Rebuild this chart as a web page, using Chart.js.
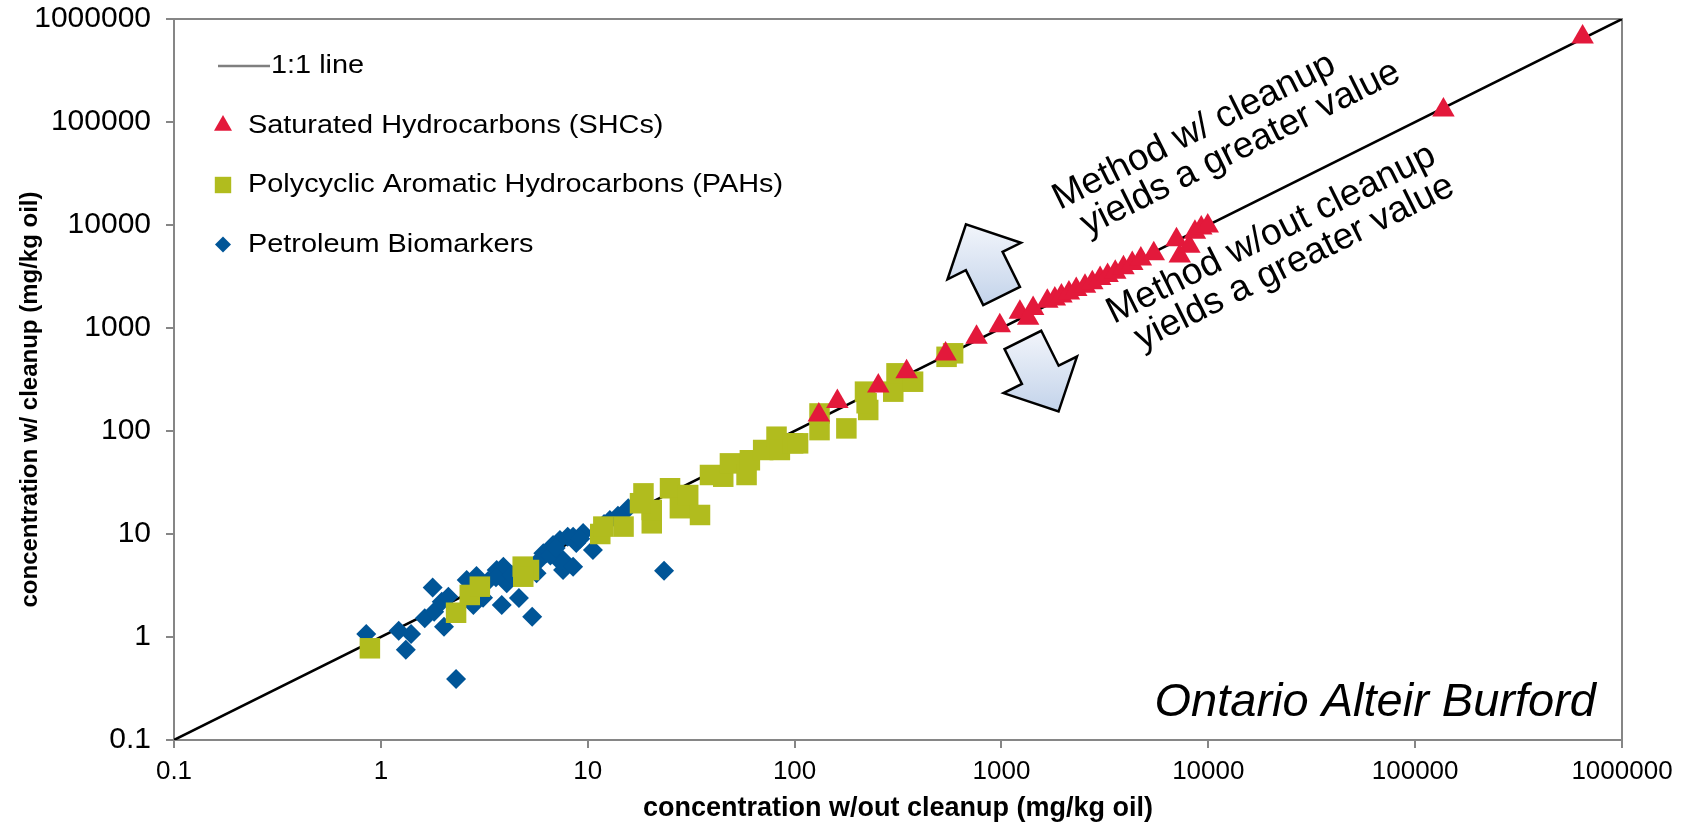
<!DOCTYPE html>
<html><head><meta charset="utf-8">
<script src="https://cdn.jsdelivr.net/npm/chart.js@4/dist/chart.umd.min.js"></script>
<style>html,body{margin:0;padding:0;background:#fff;overflow:hidden}</style>
</head><body>
<canvas id="c" width="1688" height="825"></canvas>
<script>
// ---------- data ----------
const tickValues = [0.1, 1, 10, 100, 1000, 10000, 100000, 1000000];
const tickLabels = ['0.1', '1', '10', '100', '1000', '10000', '100000', '1000000'];

const lineX = [0.1, 1000000];
const lineY = [0.1, 1000000];

const shcX = [131, 161, 254, 348, 537, 758, 982, 1228, 1346, 1423, 1667, 1812, 1950, 2120, 2300, 2535, 2750, 3000, 3260, 3550, 3890, 4290, 4720, 5450, 7020, 7280, 8100, 8620, 9250, 9940, 137000, 645000];
const shcY = [143, 193, 273, 377, 560, 813, 1052, 1420, 1243, 1550, 1815, 1910, 2040, 2190, 2370, 2550, 2750, 3020, 3240, 3470, 3850, 4230, 4680, 5260, 7200, 5000, 6220, 8500, 9330, 9800, 131000, 670000];

const pahX = [0.885, 2.31, 2.69, 3.01, 4.85, 5.2, 4.88, 11.5, 11.9, 14.9, 18.6, 20.4, 20.4, 17.9, 25, 27.9, 30.6, 34.9, 39, 45.2, 48.7, 58.6, 60.8, 70.5, 81.8, 84.9, 98.4, 104, 132, 132, 178, 219, 227, 223, 300, 311, 374, 543, 584];
const pahY = [0.777, 1.72, 2.56, 3.08, 4.82, 4.47, 3.85, 10, 11.8, 11.8, 24.8, 12.7, 17.1, 19.9, 27.8, 17.8, 23.9, 15.3, 37.4, 36, 48.5, 37.4, 52, 65.4, 88, 65.4, 75.9, 75.9, 102, 148, 106, 241, 160, 186, 241, 363, 301, 525, 568];

const bioX = [0.85, 1.22, 1.40, 1.32, 2.31, 1.78, 1.63, 1.81, 2.02, 1.97, 2.12, 2.6, 2.9, 2.8, 3.12, 3.84, 3.63, 3.91, 4.06, 4.65, 5.39, 5.16, 5.66, 6.1, 6.8, 7.34, 7.6, 8.0, 7.34, 6.3, 7.6, 8.5, 8.5, 10.6, 9.5, 12.8, 15.7, 23.4, 3.3, 3.6, 4.3, 4.8, 5.8, 6.6, 7.0, 8.8, 9.2, 11.5, 12.0, 14.0];
const bioY = [1.07, 1.15, 1.07, 0.75, 0.39, 3.03, 1.52, 1.76, 1.26, 2.2, 2.46, 3.57, 3.9, 2.04, 2.4, 2.04, 4.47, 4.8, 3.32, 2.39, 1.57, 4.15, 4.15, 6.5, 7.8, 8.75, 4.47, 9.4, 5.4, 6.5, 5.6, 9.4, 4.8, 7.0, 10.2, 13.7, 17.8, 4.4, 3.5, 3.8, 4.0, 4.6, 5.5, 6.2, 7.3, 8.2, 9.0, 11.5, 12.5, 15.0];

const seriesNames = ['1:1 line', 'Saturated Hydrocarbons (SHCs)', 'Polycyclic Aromatic Hydrocarbons (PAHs)', 'Petroleum Biomarkers'];
const xTitle = 'concentration w/out cleanup (mg/kg oil)';
const yTitle = 'concentration w/ cleanup (mg/kg oil)';
const sampleName = 'Ontario Alteir Burford';
const noteUp = ['Method w/ cleanup', 'yields a greater value'];
const noteDown = ['Method w/out cleanup', 'yields a greater value'];

// ---------- helpers ----------
const pts = (xs, ys) => xs.map((x, i) => ({x: x, y: ys[i]}));
const FONT = '"Liberation Sans", Arial, Helvetica, sans-serif';
const AXIS_GRAY = '#868686';

// annotation placement (data-space anchors)
const annot = {
  textLines: [
    {text: noteUp[0], x: 1914, y: 13996},
    {text: noteUp[1], x: 2612, y: 7816},
    {text: noteDown[0], x: 3491, y: 1094},
    {text: noteDown[1], x: 4764, y: 611}
  ],
  arrows: [
    {x: 1002, y: 2046, dir: 1},
    {x: 1270, y: 766, dir: -1}
  ]
};

function drawBlockArrow(ctx, bx, by, ux, uy) {
  const shaftLen = 39, headLen = 41, headW = 82, shaftW = 41;
  const px = -uy, py = ux;
  const local = [[-shaftW/2, 0], [-shaftW/2, shaftLen], [-headW/2, shaftLen], [0, shaftLen + headLen], [headW/2, shaftLen], [shaftW/2, shaftLen], [shaftW/2, 0]];
  const P = local.map(([s, t]) => [bx + px*s + ux*t, by + py*s + uy*t]);
  let minY = Infinity, maxY = -Infinity;
  P.forEach(p => { minY = Math.min(minY, p[1]); maxY = Math.max(maxY, p[1]); });
  const g = ctx.createLinearGradient(0, minY, 0, maxY);
  g.addColorStop(0, '#F2F5FB');
  g.addColorStop(1, '#C3D3EA');
  ctx.beginPath();
  P.forEach((p, i) => i ? ctx.lineTo(p[0], p[1]) : ctx.moveTo(p[0], p[1]));
  ctx.closePath();
  ctx.fillStyle = g;
  ctx.fill();
  ctx.lineWidth = 2.5;
  ctx.strokeStyle = '#000';
  ctx.lineJoin = 'miter';
  ctx.stroke();
}

function wideText(ctx, text, x, y, sx) {
  ctx.save();
  ctx.translate(x, y);
  ctx.scale(sx, 1);
  ctx.fillText(text, 0, 0);
  ctx.restore();
}

const framePlugin = {
  id: 'frame',
  beforeDatasetsDraw(chart) {
    const {ctx, chartArea: a} = chart;
    ctx.save();
    ctx.strokeStyle = AXIS_GRAY;
    ctx.lineWidth = 2;
    ctx.beginPath();
    ctx.moveTo(a.left, a.top); ctx.lineTo(a.right, a.top); ctx.lineTo(a.right, a.bottom);
    ctx.stroke();
    ctx.restore();
  }
};

const annotPlugin = {
  id: 'annot',
  afterDraw(chart) {
    const {ctx, chartArea: a} = chart;
    const xs = chart.scales.x, ys = chart.scales.y;
    const x1 = xs.getPixelForValue(1), y1 = ys.getPixelForValue(1);
    const x2 = xs.getPixelForValue(1e6), y2 = ys.getPixelForValue(1e6);
    const ang = Math.atan2(y2 - y1, x2 - x1);
    const len = Math.hypot(x2 - x1, y2 - y1);
    const dx = (x2 - x1) / len, dy = (y2 - y1) / len;
    const nx = dy, ny = -dx;
    ctx.save();
    annot.arrows.forEach(ar => {
      const bx = xs.getPixelForValue(ar.x), by = ys.getPixelForValue(ar.y);
      drawBlockArrow(ctx, bx, by, nx * ar.dir, ny * ar.dir);
    });
    ctx.fillStyle = '#000';
    ctx.font = '37px ' + FONT;
    ctx.textAlign = 'left';
    ctx.textBaseline = 'alphabetic';
    annot.textLines.forEach(t => {
      const px = xs.getPixelForValue(t.x), py = ys.getPixelForValue(t.y);
      ctx.save();
      ctx.translate(px, py);
      ctx.rotate(ang);
      ctx.fillText(t.text, 0, 0);
      ctx.restore();
    });
    ctx.font = 'italic 47px ' + FONT;
    ctx.textAlign = 'right';
    ctx.fillText(sampleName, a.right - 26, a.bottom - 24);
    // y axis title
    ctx.save();
    ctx.font = 'bold 24px ' + FONT;
    ctx.textAlign = 'center';
    ctx.textBaseline = 'middle';
    ctx.translate(30, (a.top + a.bottom) / 2 + 20);
    ctx.rotate(-Math.PI / 2);
    ctx.fillText(yTitle, 0, 0);
    ctx.restore();
    // legend
    const order = [3, 0, 1, 2];
    ctx.font = '26px ' + FONT;
    ctx.textAlign = 'left';
    ctx.textBaseline = 'middle';
    order.forEach((di, k) => {
      const ds = chart.data.datasets[di];
      const y = a.top + 47 + k * 59.5;
      let tx = a.left + 74;
      if (ds.type === 'line') {
        ctx.strokeStyle = '#7F7F7F';
        ctx.lineWidth = 2.5;
        ctx.beginPath();
        ctx.moveTo(a.left + 44, y); ctx.lineTo(a.left + 96, y);
        ctx.stroke();
        tx = a.left + 97;
      } else {
        ctx.fillStyle = ds.backgroundColor;
        Chart.helpers.drawPoint(ctx, {pointStyle: ds.pointStyle, radius: ds.pointRadius * 0.8, rotation: 0, borderWidth: 0}, a.left + 49, y);
      }
      ctx.fillStyle = '#000';
      wideText(ctx, ds.label, tx, y, 1.11);
    });
    ctx.restore();
  }
};

new Chart(document.getElementById('c'), {
  type: 'scatter',
  data: {
    datasets: [
      {label: seriesNames[1], data: pts(shcX, shcY), pointStyle: 'triangle', pointRadius: 13, backgroundColor: '#E3193B', borderWidth: 0, order: 0},
      {label: seriesNames[2], data: pts(pahX, pahY), pointStyle: 'rect', pointRadius: 14.5, backgroundColor: '#B1BC1E', borderWidth: 0, order: 1},
      {label: seriesNames[3], data: pts(bioX, bioY), pointStyle: 'rectRot', pointRadius: 10, backgroundColor: '#005597', borderWidth: 0, order: 2},
      {type: 'line', label: seriesNames[0], data: pts(lineX, lineY), borderColor: '#000', borderWidth: 2.5, pointRadius: 0, showLine: true, fill: false, order: 3}
    ]
  },
  options: {
    responsive: false,
    animation: false,
    events: [],
    layout: {padding: {left: 0, top: 19, right: 66, bottom: 0}},
    plugins: {legend: {display: false}, tooltip: {enabled: false}},
    scales: {
      x: {
        type: 'logarithmic', position: 'bottom', min: 0.1, max: 1000000,
        afterBuildTicks: s => { s.ticks = tickValues.map(v => ({value: v})); },
        afterFit: s => { s.height = 85; },
        ticks: {callback: (v, i) => tickLabels[i], autoSkip: false, maxRotation: 0, minRotation: 0, padding: 8, color: '#000', font: {family: FONT, size: 26}},
        grid: {display: true, drawOnChartArea: false, drawTicks: true, tickLength: 8, color: AXIS_GRAY, lineWidth: 2},
        border: {display: true, color: AXIS_GRAY, width: 2},
        title: {display: true, text: xTitle, color: '#000', padding: {top: 0, bottom: 0}, font: {family: FONT, size: 27, weight: 'bold'}}
      },
      y: {
        type: 'logarithmic', position: 'left', min: 0.1, max: 1000000,
        afterBuildTicks: s => { s.ticks = tickValues.map(v => ({value: v})); },
        afterFit: s => { s.width = 174; s.paddingTop = 0; s.paddingBottom = 0; },
        ticks: {callback: (v, i) => tickLabels[i], autoSkip: false, padding: 15, color: '#000', font: {family: FONT, size: 30}},
        grid: {display: true, drawOnChartArea: false, drawTicks: true, tickLength: 8, color: AXIS_GRAY, lineWidth: 2},
        border: {display: true, color: AXIS_GRAY, width: 2},
        title: {display: false, text: yTitle}
      }
    }
  },
  plugins: [framePlugin, annotPlugin]
});
</script>
</body></html>
